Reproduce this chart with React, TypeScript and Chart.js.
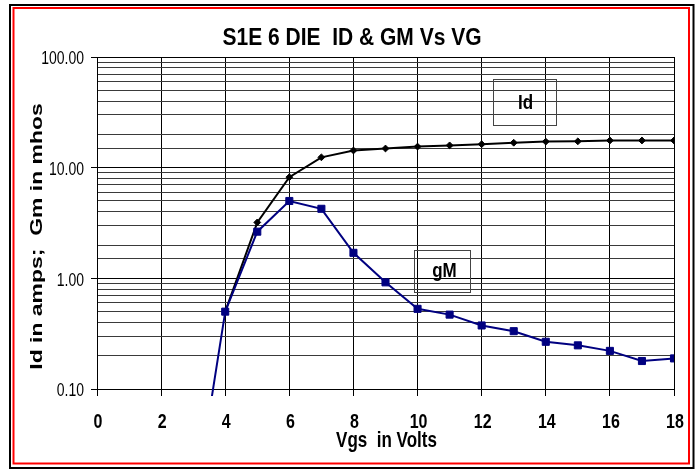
import React, { useEffect, useRef } from 'react';
import { Chart, registerables } from 'chart.js';

Chart.register(...registerables);

// ---- data ----
const VGS_ID = [4, 5, 6, 7, 8, 9, 10, 11, 12, 13, 14, 15, 16, 17, 18];
const ID_AMPS = [0.5, 3.2, 8.2, 12.4, 14.3, 14.9, 15.5, 15.9, 16.3, 16.8, 17.2, 17.3, 17.6, 17.6, 17.6];
const VGS_GM = [3, 4, 5, 6, 7, 8, 9, 10, 11, 12, 13, 14, 15, 16, 17, 18];
const GM_MHOS = [0.0072, 0.5, 2.64, 5.0, 4.25, 1.7, 0.92, 0.53, 0.47, 0.375, 0.333, 0.267, 0.248, 0.221, 0.179, 0.189];

const X_TICKS = [0, 2, 4, 6, 8, 10, 12, 14, 16, 18];
const X_TICK_LABELS = ['0', '2', '4', '6', '8', '10', '12', '14', '16', '18'];
const Y_MAJOR_TICKS = [0.1, 1, 10, 100];
const Y_TICK_LABELS = ['0.10', '1.00', '10.00', '100.00'];

const TITLE = 'S1E 6 DIE  ID & GM Vs VG';
const X_TITLE = 'Vgs  in Volts';
const Y_TITLE = 'Id in amps;  Gm in mhos';
const NOTE_ID = 'Id';
const NOTE_GM = 'gM';

const FONT = '"Liberation Sans", Arial, sans-serif';

const isMajor = (v: number) => Y_MAJOR_TICKS.some((m) => Math.abs(m - v) / m < 1e-6);

function drawText(
  ctx: CanvasRenderingContext2D,
  text: string,
  x: number,
  y: number,
  font: string,
  align: CanvasTextAlign,
  sy: number,
  rotate = false
) {
  ctx.save();
  ctx.translate(x, y);
  if (rotate) {
    ctx.rotate(-Math.PI / 2);
    ctx.scale(sy, 1);
  } else {
    ctx.scale(1, sy);
  }
  ctx.font = font;
  ctx.fillStyle = '#000';
  ctx.textAlign = align;
  ctx.textBaseline = 'middle';
  ctx.fillText(text, 0, 0);
  ctx.restore();
}

const decorPlugin = {
  id: 'decor',
  beforeDraw(chart: any) {
    const ctx: CanvasRenderingContext2D = chart.ctx;
    ctx.save();
    ctx.fillStyle = '#fff';
    ctx.fillRect(0, 0, chart.width, chart.height);
    ctx.lineWidth = 2;
    ctx.strokeStyle = '#000';
    ctx.strokeRect(10, 5, 683.5, 463);
    ctx.strokeStyle = '#ff0000';
    ctx.strokeRect(13.5, 8, 675.5, 455.5);
    ctx.restore();
  },
  afterDraw(chart: any) {
    const ctx: CanvasRenderingContext2D = chart.ctx;
    const xs = chart.scales.x;
    const ys = chart.scales.y;
    X_TICKS.forEach((v, i) => {
      drawText(ctx, X_TICK_LABELS[i], xs.getPixelForValue(v) + 1, 422, `bold 16px ${FONT}`, 'center', 1.3);
    });
    Y_MAJOR_TICKS.forEach((v, i) => {
      drawText(ctx, Y_TICK_LABELS[i], 84, ys.getPixelForValue(v) + 2, `14px ${FONT}`, 'right', 1.37);
    });
    drawText(ctx, TITLE, 352, 38, `bold 21px ${FONT}`, 'center', 1.15);
    drawText(ctx, X_TITLE, 386.5, 441.5, `bold 17px ${FONT}`, 'center', 1.25);
    drawText(ctx, Y_TITLE, 37.5, 236.5, `bold 17px ${FONT}`, 'center', 1.35, true);

    // text boxes
    ctx.save();
    ctx.strokeStyle = '#444';
    ctx.lineWidth = 1;
    ctx.strokeRect(493.5, 79.5, 63, 46);
    ctx.strokeRect(414.5, 250.5, 56, 42);
    ctx.restore();
    drawText(ctx, NOTE_ID, 525.5, 103.5, `bold 17px ${FONT}`, 'center', 1.2);
    drawText(ctx, NOTE_GM, 444.5, 271, `bold 17px ${FONT}`, 'center', 1.2);
  },
};

export default function App() {
  const ref = useRef<HTMLCanvasElement | null>(null);

  useEffect(() => {
    if (!ref.current) return;
    const chart = new Chart(ref.current, {
      type: 'line',
      data: {
        datasets: [
          {
            label: 'Id',
            data: VGS_ID.map((x, i) => ({ x, y: ID_AMPS[i] })),
            borderColor: '#000',
            backgroundColor: '#000',
            borderWidth: 2,
            pointStyle: 'rectRot',
            pointRadius: 3.4,
            pointBorderWidth: 1,
            pointBackgroundColor: '#000',
            pointBorderColor: '#000',
            tension: 0,
            order: 2,
          },
          {
            label: 'gM',
            data: VGS_GM.map((x, i) => ({ x, y: GM_MHOS[i] })),
            borderColor: '#000080',
            backgroundColor: '#000080',
            borderWidth: 2,
            pointStyle: 'rect',
            pointRadius: 5,
            pointBorderWidth: 1,
            pointBackgroundColor: '#000080',
            pointBorderColor: '#000080',
            tension: 0,
            order: 1,
            clip: { left: 0, top: 0, right: 0, bottom: 7 } as any,
          },
        ],
      },
      options: {
        animation: false,
        responsive: false,
        devicePixelRatio: 1,
        layout: { padding: { left: 91, right: 25, top: 57, bottom: 74 } },
        plugins: {
          legend: { display: false },
          title: { display: false },
          tooltip: { enabled: false },
        },
        events: [],
        scales: {
          x: {
            type: 'linear',
            min: 0,
            max: 18,
            afterBuildTicks: (s: any) => {
              s.ticks = X_TICKS.map((v) => ({ value: v }));
            },
            ticks: { display: false },
            grid: { color: '#000', lineWidth: 1, drawTicks: true, tickLength: 7, tickColor: '#000' },
            border: { display: true, color: '#000', width: 1 },
          },
          y: {
            type: 'logarithmic',
            min: 0.1,
            max: 100,
            ticks: { display: false },
            grid: {
              color: (c: any) => (c.tick && isMajor(c.tick.value) ? '#000' : '#3a3a3a'),
              lineWidth: 1,
              drawTicks: true,
              tickLength: 6,
              tickColor: (c: any) => (c.tick && isMajor(c.tick.value) ? '#000' : 'rgba(0,0,0,0)'),
            },
            border: { display: true, color: '#000', width: 1 },
          },
        },
      },
      plugins: [decorPlugin],
    });
    return () => chart.destroy();
  }, []);

  return (
    <div style={{ position: 'absolute', left: 0, top: 0, width: 699, height: 470 }}>
      <canvas ref={ref} width={699} height={470} style={{ display: 'block' }} />
    </div>
  );
}
